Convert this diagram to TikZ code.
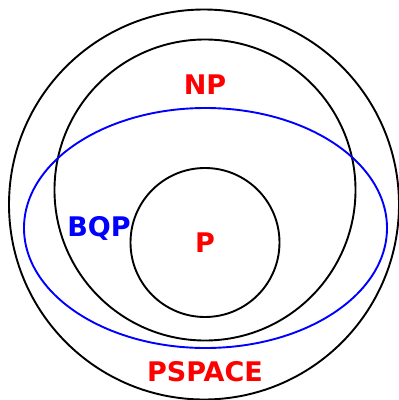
\documentclass[tikz,border=0pt]{standalone}
\usepackage{fontspec}
\setmainfont{DejaVu Sans}
\usepackage{xcolor}
\usepackage{tikz}
\usetikzlibrary{positioning, calc}

\begin{document}
\begin{tikzpicture}[x=1pt,y=-1pt,
    classline/.style={line width=1.9pt},
    classlabel/.style={font=\fontsize{27}{31}\selectfont\bfseries, inner sep=0pt}]
  % Page frame
  \useasboundingbox (0,0) rectangle (399,400);
  \clip (0,0) rectangle (399,400);

  % Centres of the classes
  \coordinate (PS) at (204,204.5);
  \coordinate (N) at (205,190);
  \coordinate (Q) at (205.5,228);
  \coordinate (Pc) at (205,242.5);

  % PSPACE, NP and P circles
  \draw[classline] (PS) circle (195);
  \draw[classline] (N) circle (150.5);
  \draw[classline] (Pc) circle (74.5);

  % BQP ellipse
  \draw[classline,blue] (Q) ellipse (181.5 and 120);

  % Labels
  \node[classlabel,red] (np) at (205,85) {NP};
  \node[classlabel,blue] (bqp) at (99,228) {BQP};
  \node[classlabel,red] (p) at (205,243) {P};
  \node[classlabel,red] (pspace) at (205,372) {PSPACE};
\end{tikzpicture}
\end{document}
